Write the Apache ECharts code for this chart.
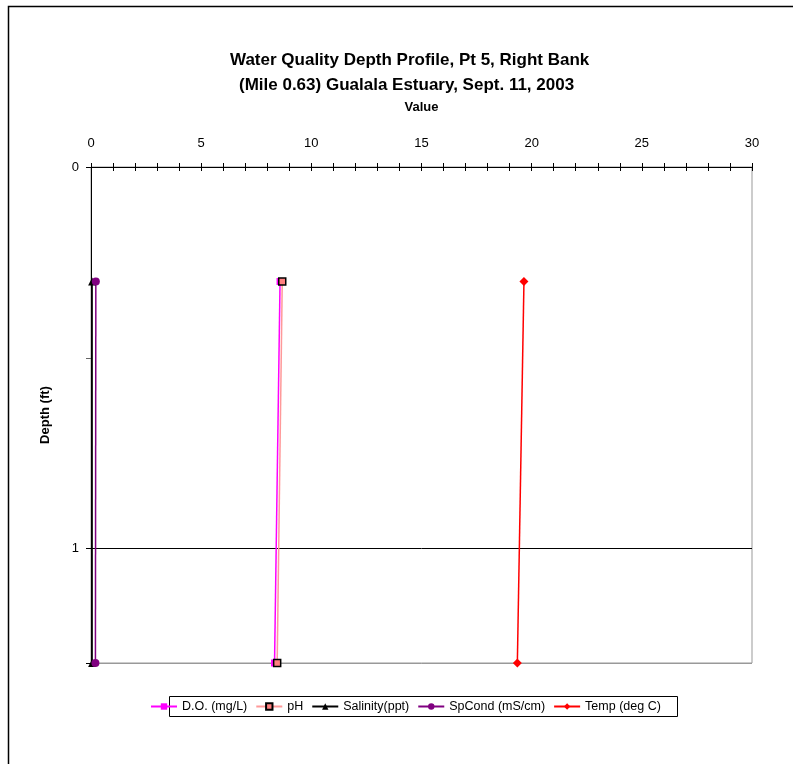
<!DOCTYPE html>
<html><head><meta charset="utf-8">
<script src="https://cdn.jsdelivr.net/npm/echarts@6/dist/echarts.min.js"></script>
<style>html,body{margin:0;padding:0;background:#fff}#c{width:793px;height:764px}</style>
</head><body><div id="c"></div>
<script>
var depths = [0.3, 1.3];
var doVals = [8.58, 8.33];
var phVals = [8.68, 8.45];
var salVals = [0.05, 0.05];
var spcVals = [0.22, 0.20];
var tempVals = [19.65, 19.35];
var seriesNames = ['D.O. (mg/L)', 'pH', 'Salinity(ppt)', 'SpCond (mS/cm)', 'Temp (deg C)'];
var titleLines = ['Water Quality Depth Profile, Pt 5, Right Bank', '(Mile 0.63) Gualala Estuary, Sept. 11, 2003'];
var xTicks = [0, 5, 10, 15, 20, 25, 30];
var yTicks = [0, 1];

function pts(v){ return v.map(function(x,i){ return [x, depths[i]]; }); }
var F = 'Liberation Sans, Arial, sans-serif';
var chart = echarts.init(document.getElementById('c'));
function s(name, vals, color, lineColor, symbol, size, border){
  return {name:name, type:'line', data:pts(vals), symbol:symbol, symbolSize:size,
    lineStyle:{color:lineColor, width:1.5}, itemStyle:{color:color, borderColor:border||color, borderWidth:border?1.5:0},
    emphasis:{disabled:true}, animation:false, z:3};
}
var ts = {fontFamily:F, fontWeight:'bold', fontSize:17, color:'#000'};
chart.setOption({
  animation:false,
  title:[{text:titleLines[0], left:225, top:47, textStyle:ts},
         {text:titleLines[1], left:234, top:72, textStyle:ts}],
  graphic:[{type:'rect', shape:{x:8.5, y:6.5, width:900, height:900}, style:{fill:null, stroke:'#000', lineWidth:1.5}, silent:true},
           {type:'rect', shape:{x:169.5, y:696.5, width:508, height:20}, style:{fill:null, stroke:'#000', lineWidth:1}, silent:true}],
  grid:{left:91, top:167, right:41, bottom:101, show:true, borderColor:'#999', borderWidth:1, backgroundColor:'transparent'},
  legend:{left:148, top:697, itemWidth:26, itemHeight:8, itemGap:8, padding:[3,3,3,2],
    textStyle:{fontFamily:F, fontSize:12.5, color:'#000'}, data:seriesNames},
  xAxis:[{type:'value', position:'top', min:0, max:30, interval:5,
    name:'Value', nameLocation:'middle', nameGap:53, nameTextStyle:{fontFamily:F, fontWeight:'bold', fontSize:13, color:'#000'},
    axisLine:{lineStyle:{color:'#000', width:1}}, axisTick:{show:true, length:4, lineStyle:{color:'#000'}},
    minorTick:{show:true, splitNumber:5, length:4, lineStyle:{color:'#000'}},
    axisLabel:{fontFamily:F, fontSize:13, color:'#000', margin:17, formatter:function(v){return xTicks.indexOf(v)>=0?String(v):'';}},
    splitLine:{show:false}},
   {type:'value', position:'top', min:0, max:30, interval:5, axisLine:{show:false},
    axisTick:{show:true, inside:true, length:4, lineStyle:{color:'#000'}},
    minorTick:{show:true, splitNumber:5, length:4, lineStyle:{color:'#000'}}, axisLabel:{show:false}, splitLine:{show:false}}],
  yAxis:{type:'value', inverse:true, min:0, max:1.3, interval:1,
    name:'Depth (ft)', nameLocation:'middle', nameGap:39, nameTextStyle:{fontFamily:F, fontWeight:'bold', fontSize:13, color:'#000'},
    axisLine:{lineStyle:{color:'#000', width:1}}, axisTick:{show:true, length:5, lineStyle:{color:'#000'}},
    minorTick:{show:true, splitNumber:2, length:5, lineStyle:{color:'#666'}},
    axisLabel:{fontFamily:F, fontSize:13, color:'#000', margin:12, showMaxLabel:false,
      formatter:function(v){return yTicks.indexOf(v)>=0?String(v):'';}},
    splitLine:{show:true, lineStyle:{color:['#000','#000','#999'], width:1}}},
  series:[
    s(seriesNames[0], doVals, '#FF00FF', '#FF00FF', 'rect', 7),
    s(seriesNames[1], phVals, '#FF8080', '#FF9999', 'rect', 7, '#000'),
    s(seriesNames[2], salVals, '#000', '#000', 'triangle', 8),
    s(seriesNames[3], spcVals, '#800080', '#800080', 'circle', 8),
    s(seriesNames[4], tempVals, '#FF0000', '#FF0000', 'diamond', 9)
  ]
});
</script></body></html>
